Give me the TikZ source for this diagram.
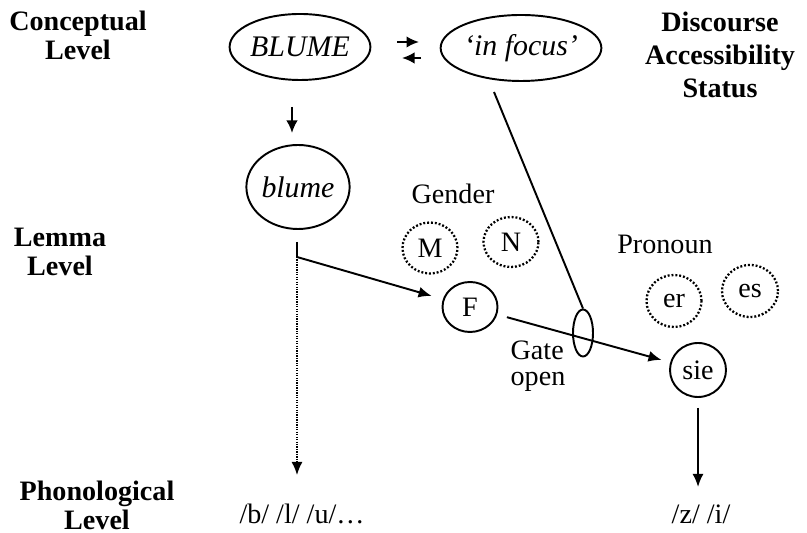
\documentclass[tikz,border=0pt]{standalone}
\usepackage{fontspec}
\setmainfont{Liberation Serif}
\usepackage{tikz}
\usetikzlibrary{arrows.meta}
\usetikzlibrary{shapes.geometric}
\usetikzlibrary{calc}
\tikzstyle{txt} = [font=\fontsize{16}{18}\selectfont,inner sep=0mm]
\tikzstyle{lvl} = [font=\bfseries\fontsize{16}{16.5}\selectfont,align=center,inner sep=0mm]
\tikzstyle{unit} = [draw,ellipse,line width=1.1pt,inner sep=0mm,font=\fontsize{16}{18}\selectfont]
\tikzstyle{alt} = [unit,dash pattern=on 1.1pt off 1.1pt,line width=1.3pt]
\tikzstyle{arr} = [line width=1.1pt,-{Latex[length=2.6mm,width=2.2mm]}]
\tikzstyle{small} = [line width=1.2pt,-{Latex[length=2.5mm,width=2.3mm]}]

\begin{document}
\begin{tikzpicture}[scale=1]
\useasboundingbox (0,0) rectangle (16.14,10.66);
% level labels
\draw(1.56,9.96) node[lvl] (conc) {Conceptual\\Level};
\draw(1.20,5.62) node[lvl] (lem) {Lemma\\Level};
\draw(1.94,0.56) node[lvl] (phon) {Phonological\\Level};
\draw(14.40,9.56) node[lvl,font=\bfseries\fontsize{16}{18.7}\selectfont] (disc) {Discourse\\Accessibility\\Status};

% conceptual level
\draw(6.00,9.72) node[unit,minimum width=2.70cm,minimum height=1.32cm,font=\itshape\fontsize{17}{18}\selectfont] (BLUME) {BLUME};
\draw(10.42,9.70) node[unit,minimum width=2.72cm,minimum height=1.32cm,font=\itshape\fontsize{17}{18}\selectfont] (infocus) {`in focus'};
\coordinate (r1) at (7.94,9.82);
\coordinate (r2) at (8.38,9.82);
\coordinate (l1) at (8.42,9.50);
\coordinate (l2) at (8.04,9.50);
\draw[small] (r1) -- (r2);
\draw[small] (l1) -- (l2);

% lemma level
\draw(5.96,6.92) node[unit,minimum width=1.80cm,minimum height=1.68cm,font=\itshape\fontsize{17}{18}\selectfont] (blume) {blume};
\coordinate (c1) at (5.84,8.52);
\coordinate (c2) at (5.84,8.00);
\draw[small] (c1) -- (c2);

\draw(9.06,6.78) node[txt] (gender) {Gender};
\draw(8.60,5.70) node[alt,minimum width=1.10cm,minimum height=1.02cm] (M) {M};
\draw(10.22,5.82) node[alt,minimum width=1.10cm,minimum height=1.00cm] (N) {N};
\draw(9.40,4.52) node[unit,minimum width=1.10cm,minimum height=1.00cm] (F) {F};

\draw(13.30,5.78) node[txt] (pronoun) {Pronoun};
\draw(13.48,4.64) node[alt,minimum width=1.10cm,minimum height=1.04cm] (er) {er};
\draw(15.00,4.84) node[alt,minimum width=1.12cm,minimum height=1.04cm] (es) {es};
\draw(13.96,3.26) node[unit,minimum width=1.12cm,minimum height=1.08cm] (sie) {sie};

\draw(11.66,4.00) node[draw,ellipse,line width=1.1pt,minimum width=0.40cm,minimum height=0.94cm,inner sep=0mm] (gate) {};
\draw(10.76,3.34) node[txt,align=left,font=\fontsize{16}{15}\selectfont] (open) {Gate\\open};

% connections
\coordinate (b1) at (5.94,5.82);
\coordinate (b2) at (5.94,5.52);
\coordinate (b3) at (5.94,1.16);
\draw[line width=1.1pt] (b1) -- (b2);
\draw[arr] (b2) -- ($(F)!0.8cm!(b2)$);
\draw[line width=0.9pt,dash pattern=on 0.7pt off 0.7pt,-{Latex[length=2.6mm,width=2.2mm]}] (b2) -- (b3);
\coordinate (fx) at (9.88,8.82);
\draw[line width=1.1pt] (fx) -- (gate.north);
\draw[arr,shorten <=0.2cm,shorten >=0.18cm] (F) -- (sie);

% phonological level
\draw(6.04,0.38) node[txt] (phb) {/b/ /l/ /u/\dots};
\draw(14.02,0.38) node[txt] (phz) {/z/ /i/};
\coordinate (z1) at (13.96,0.92);
\draw[arr,shorten <=0.2cm] (sie) -- (z1);
\end{tikzpicture}
\end{document}
